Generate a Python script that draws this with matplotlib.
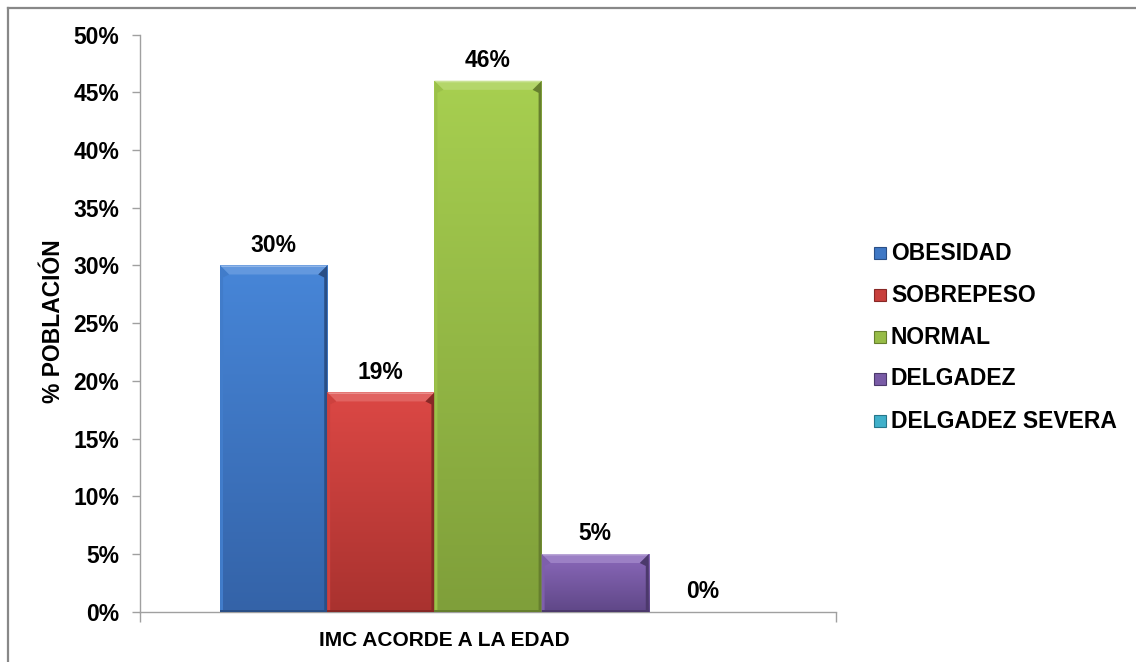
import matplotlib.pyplot as plt
import numpy as np
from matplotlib.patches import Polygon, Rectangle
from matplotlib.lines import Line2D
from matplotlib.colors import to_rgb

categorias = ["OBESIDAD", "SOBREPESO", "NORMAL", "DELGADEZ", "DELGADEZ SEVERA"]
porcentajes = [30, 19, 46, 5, 0]
grupo = "IMC ACORDE A LA EDAD"
ticks_y = [0, 5, 10, 15, 20, 25, 30, 35, 40, 45, 50]

# colores arriba / abajo de cada barra (degradado)
col_arriba = ["#4786d8", "#dc4845", "#a7cf50", "#8b69bb", "#4cc3de"]
col_abajo = ["#3463a8", "#a9322f", "#7f9f3a", "#5f4787", "#2f93ad"]

plt.rcParams['font.family'] = ['Liberation Sans', 'DejaVu Sans']
plt.rcParams['font.weight'] = 'bold'

W, H = 1136, 662
fig = plt.figure(figsize=(W / 100, H / 100), dpi=100)
ax = fig.add_axes([140 / W, 50.3 / H, 696 / W, 577 / H])

n = len(categorias)
ancho = 0.154
xs = (np.arange(n) - (n - 1) / 2) * ancho
barras = ax.bar(xs, porcentajes, width=ancho, color=col_abajo, linewidth=0, zorder=2)

# tamaño de un pixel en unidades de datos
px_x = 1.0 / 696
px_y = 50.0 / 577


def mezcla(c, otro, t):
    a = np.array(to_rgb(c))
    b = np.array(to_rgb(otro))
    return tuple(a * (1 - t) + b * t)


for b, v, c1, c2 in zip(barras, porcentajes, col_arriba, col_abajo):
    if v <= 0:
        continue
    x0 = b.get_x()
    x1 = x0 + b.get_width()
    t = np.linspace(0, 1, 256)[:, None]
    grad = np.array(to_rgb(c1))[None, None, :] * (1 - t[..., None]) + \
        np.array(to_rgb(c2))[None, None, :] * t[..., None]
    im = ax.imshow(grad, extent=[x0, x1, 0, v], aspect='auto', zorder=3,
                   interpolation='bilinear')
    im.set_clip_path(b)

    bx, by = 9 * px_x, 9 * px_y
    sx = 3 * px_x
    # bisel superior
    ax.add_patch(Polygon([(x0, v), (x1, v), (x1 - bx, v - by), (x0 + bx, v - by)],
                         closed=True, color=mezcla(c1, "white", 0.15), lw=0, zorder=4))
    ax.add_patch(Polygon([(x0, v), (x1, v), (x1 - 1.5 * px_x, v - 1.5 * px_y),
                          (x0 + 1.5 * px_x, v - 1.5 * px_y)],
                         closed=True, color=mezcla(c1, "white", 0.4), lw=0, zorder=4))
    # laterales
    ax.add_patch(Polygon([(x0, v), (x0 + bx, v - by), (x0 + sx, v - by - 3 * px_y),
                          (x0 + sx, 0), (x0, 0)],
                         closed=True, color=mezcla(c1, c2, 0.3), lw=0, zorder=4))
    ax.add_patch(Polygon([(x1, v), (x1 - bx, v - by), (x1 - sx, v - by - 3 * px_y),
                          (x1 - sx, 0), (x1, 0)],
                         closed=True, color=mezcla(c2, "black", 0.2), lw=0, zorder=4))
    ax.add_patch(Rectangle((x0, 0), x1 - x0, 2 * px_y,
                           color=mezcla(c2, "black", 0.2), lw=0, zorder=4))

for x, v in zip(xs, porcentajes):
    ax.annotate(f"{v}%", (x, v), xytext=(0, 10), textcoords='offset points',
                ha='center', va='baseline', fontsize=16.5, fontweight='bold', zorder=5)

ax.set_xlim(-0.5, 0.5)
ax.set_ylim(0, 50)
ax.set_yticks(ticks_y)
ax.set_yticklabels([f"{t}%" for t in ticks_y])
ax.set_xticks([-0.5, 0.5])
ax.set_xticklabels([])
ax.tick_params(axis='y', length=6, width=1, color='#a0a0a0', pad=9, labelsize=16.5)
ax.tick_params(axis='x', length=7, width=1, color='#a0a0a0')
for s in ['top', 'right']:
    ax.spines[s].set_visible(False)
for s in ['left', 'bottom']:
    ax.spines[s].set_color('#a0a0a0')
    ax.spines[s].set_linewidth(1)

fig.text(444 / W, 1 - 640 / H, grupo, ha='center', va='center', fontsize=15, fontweight='bold')
fig.text(54 / W, 1 - 321 / H, "% POBLACIÓN", ha='center', va='center', rotation=90,
         fontsize=16.5, fontweight='bold')

# leyenda
for i, (cat, c1, c2) in enumerate(zip(categorias, col_arriba, col_abajo)):
    yc = 253 + i * 42
    fig.patches.append(Rectangle((874 / W, 1 - (yc + 6) / H), 12 / W, 12 / H,
                                 transform=fig.transFigure, facecolor=mezcla(c1, c2, 0.4),
                                 edgecolor=mezcla(c2, "black", 0.2), lw=0.8))
    fig.text(891 / W, 1 - yc / H, cat, ha='left', va='center', fontsize=16.5, fontweight='bold')

# marco
fig.add_artist(Line2D([8 / W, 1], [1 - 8 / H, 1 - 8 / H], transform=fig.transFigure,
                      color='#888888', lw=1.6))
fig.add_artist(Line2D([8 / W, 8 / W], [0, 1 - 8 / H], transform=fig.transFigure,
                      color='#888888', lw=1.6))

fig.savefig('out.png', dpi=100)
